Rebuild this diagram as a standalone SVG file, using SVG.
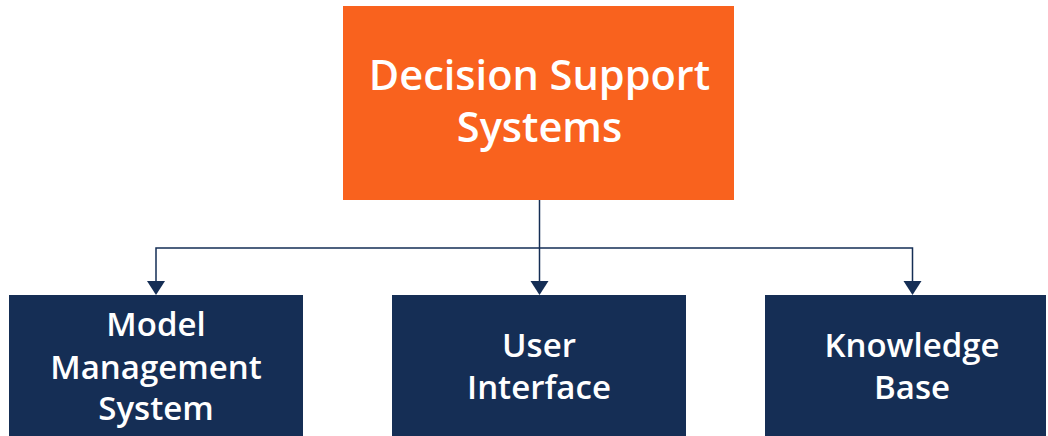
<svg xmlns="http://www.w3.org/2000/svg" width="1048" height="436" viewBox="0 0 1048 436">
<defs>
<style>
.box-top{fill:#f9621e;}
.box{fill:#152e55;}
.t{font-family:"Open Sans","Noto Sans",sans-serif;font-weight:600;fill:#ffffff;text-anchor:middle;}
.t1{font-size:41.5px;}
.t2{font-size:33px;}
.c{fill:none;stroke:#152e55;stroke-width:1.5;}
.ah{fill:#152e55;}
</style>
</defs>
<rect width="1048" height="436" fill="#ffffff"/>
<g id="connectors">
<path class="c" d="M539.5 200 V281"/>
<path class="c" d="M156 281 V248 H912.5 V281"/>
<polygon class="ah" points="147,281 165,281 156,295"/>
<polygon class="ah" points="530.5,281 548.5,281 539.5,295"/>
<polygon class="ah" points="903.5,281 921.5,281 912.5,295"/>
</g>
<g id="node-dss">
<rect class="box-top" x="343" y="6" width="391" height="194"/>
<text class="t t1" x="539.5" y="90">Decision Support</text>
<text class="t t1" x="539.5" y="142">Systems</text>
</g>
<g id="node-mms">
<rect class="box" x="9" y="295" width="294" height="141"/>
<text class="t t2" x="156" y="336">Model</text>
<text class="t t2" x="156" y="379">Management</text>
<text class="t t2" x="156" y="420">System</text>
</g>
<g id="node-ui">
<rect class="box" x="392" y="295" width="294" height="141"/>
<text class="t t2" x="539" y="357">User</text>
<text class="t t2" x="539" y="399">Interface</text>
</g>
<g id="node-kb">
<rect class="box" x="765" y="295" width="281" height="141"/>
<text class="t t2" x="912" y="357">Knowledge</text>
<text class="t t2" x="912" y="399">Base</text>
</g>
</svg>
